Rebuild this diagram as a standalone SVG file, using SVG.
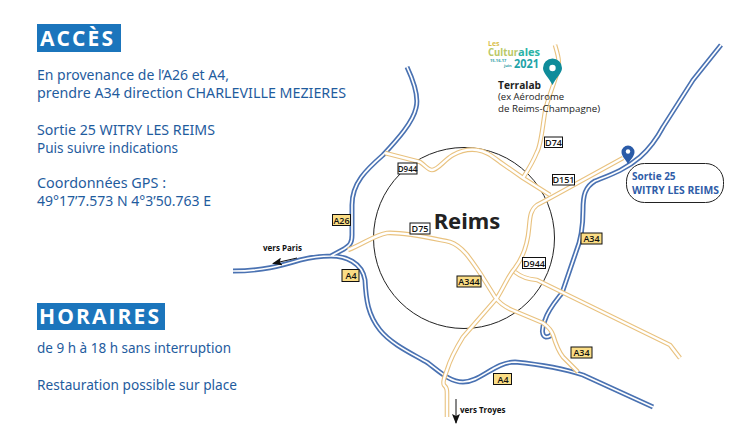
<svg xmlns="http://www.w3.org/2000/svg" width="753" height="445" viewBox="0 0 753 445">
<style>
text{font-family:"Open Sans","Noto Sans","Liberation Sans",sans-serif}
.body{font-size:13.6px;fill:#1f5c9e;font-family:"Noto Sans","Open Sans",sans-serif}
.head{font-size:21px;font-weight:700;fill:#fff;letter-spacing:2.1px}
.hbox{fill:#1b75bc}
.bc{fill:none;stroke:#4a72b2;stroke-width:5;stroke-linejoin:round}
.bi{fill:none;stroke:#fff;stroke-width:1.7;stroke-linejoin:round}
.yc{fill:none;stroke:#e9c27f;stroke-width:4.6;stroke-linejoin:round}
.yi{fill:none;stroke:#fff;stroke-width:2.4;stroke-linejoin:round}
.ybox{fill:#fbdd85;stroke:#111;stroke-width:1}
.wbox{fill:#fff;stroke:#111;stroke-width:1}
.lab{font-size:9px;font-weight:600;fill:#111;text-anchor:middle}
.dir{font-size:8px;font-weight:700;fill:#111}
.ar{stroke:#111;stroke-width:1;fill:none;marker-end:url(#ah)}
</style>
<defs>
<marker id="ah" viewBox="0 0 10 8" refX="9" refY="4" markerWidth="10" markerHeight="8" orient="auto" markerUnits="userSpaceOnUse"><path d="M0 0L10 4L0 8L2 4Z" fill="#111"/></marker>
<path id="blue" d="M407 67C414 82 419 97 416 108C413 122 398 139 383 155C366 170 352 183 352 205L352 235C352 243 350 245 344 249L331 256M233 271C262 271 280 266 300 260C312 257 322 256 331 256C345 256 362 262 365 280C366 300 368 315 380 330C392 345 415 355 428 363C440 372 450 382 463 382C480 382 495 362 515 362C535 364 565 369 583 375L653 407M721 45L693 80L663 127C655 142 648 150 640 157C625 170 610 175 595 181C585 187 583 195 583 210C583 225 581 240 576 252L562 293C555 302 548 310 545 320C541 330 542 336 546 337Q550 337 552 334"/>
<path id="yellow" d="M555 45C558 55 560 62 558 70C554 85 547 100 545 112C542 130 541 145 537 152C533 162 528 170 523 178M385 153L420 162C426 166 428 170 432 170C438 170 444 160 453 155C462 150 470 149 477 150C486 151 492 156 500 162L523 178L550 195M623 158L552 197L537 205C530 210 530 218 529 228C528 240 524 256 515 268C508 276 505 285 497 298L463 337C455 350 450 360 447 370C445 376 442 382 444 385C447 388 447 390 447 394L447 417M348 250C365 243 375 235 387 233C405 232 430 238 450 242C462 246 470 258 480 273L495 297C500 304 505 307 512 310L543 323C550 328 552 332 553 335C556 345 559 352 563 357L578 372M515 272C520 276 525 279 537 280L670 345L680 358"/>
</defs>

<g id="accesTitle"><rect class="hbox" x="37" y="24" width="84" height="28"/><text class="head" x="40" y="46">ACCÈS</text></g>
<g id="accesText">
<text class="body" x="37" y="80" textLength="192" lengthAdjust="spacingAndGlyphs">En provenance de l’A26 et A4,</text>
<text class="body" x="37" y="98" textLength="309" lengthAdjust="spacingAndGlyphs">prendre A34 direction CHARLEVILLE MEZIERES</text>
<text class="body" x="37" y="135" textLength="178" lengthAdjust="spacingAndGlyphs">Sortie 25 WITRY LES REIMS</text>
<text class="body" x="37" y="153" textLength="141" lengthAdjust="spacingAndGlyphs">Puis suivre indications</text>
<text class="body" x="37" y="188" textLength="129" lengthAdjust="spacingAndGlyphs">Coordonnées GPS :</text>
<text class="body" x="37" y="206" textLength="174" lengthAdjust="spacingAndGlyphs">49°17’7.573 N 4°3’50.763 E</text>
</g>
<g id="horairesTitle"><rect class="hbox" x="37" y="303" width="128" height="27"/><text class="head" x="39" y="324">HORAIRES</text></g>
<g id="horairesText">
<text class="body" x="37" y="353" textLength="194" lengthAdjust="spacingAndGlyphs">de 9 h à 18 h sans interruption</text>
<text class="body" x="37" y="390" textLength="200" lengthAdjust="spacingAndGlyphs">Restauration possible sur place</text>
</g>

<g id="ring"><circle cx="464" cy="238" r="90.5" fill="none" stroke="#222" stroke-width="1"/></g>
<g id="city"><text x="467" y="229" font-size="22" font-weight="700" fill="#222" text-anchor="middle" style="font-family:'Noto Sans','Open Sans',sans-serif">Reims</text></g>

<g id="connectors">
<use href="#blue" class="bc"/><use href="#blue" class="bi"/>
<use href="#yellow" class="yc"/><use href="#yellow" class="yi"/>
<path class="ar" d="M297 258L273 263.500"/>
<path class="ar" d="M456 399L456 423"/>
</g>

<g id="label-D944-n"><rect class="wbox" x="398" y="163" width="19" height="11"/><text class="lab" style="font-size:8px" x="407.500" y="171.500">D944</text></g>
<g id="label-D75"><rect class="wbox" x="410" y="223" width="20" height="11"/><text class="lab" x="420" y="232">D75</text></g>
<g id="label-A26"><rect class="ybox" x="332.500" y="214.500" width="18" height="11"/><text class="lab" x="341.500" y="223.500">A26</text></g>
<g id="label-A4-w"><rect class="ybox" x="342" y="269.500" width="17" height="12"/><text class="lab" x="351" y="279">A4</text></g>
<g id="label-A344"><rect class="ybox" x="457" y="276" width="24" height="11"/><text class="lab" x="469" y="285">A344</text></g>
<g id="label-D944-e"><rect class="wbox" x="522.500" y="257.500" width="23" height="11"/><text class="lab" x="534" y="266.500">D944</text></g>
<g id="label-A34-n"><rect class="ybox" x="581" y="233" width="21" height="11"/><text class="lab" x="591.500" y="242">A34</text></g>
<g id="label-A34-s"><rect class="ybox" x="571" y="347" width="21" height="11"/><text class="lab" x="581.500" y="356">A34</text></g>
<g id="label-A4-s"><rect class="ybox" x="493.500" y="373.500" width="18" height="11"/><text class="lab" x="503" y="382.500">A4</text></g>
<g id="label-D74"><rect class="wbox" x="544.500" y="137" width="18" height="10.500"/><text class="lab" x="553.500" y="145.500">D74</text></g>
<g id="label-D151"><rect class="wbox" x="552.500" y="174.500" width="22" height="10.500"/><text class="lab" x="563.500" y="183">D151</text></g>

<g id="vers-paris"><text class="dir" x="263" y="251">vers Paris</text></g>
<g id="vers-troyes"><text class="dir" x="460" y="413">vers Troyes</text></g>

<g id="sortie25">
<rect x="626.500" y="163.500" width="97" height="39" rx="18" fill="#fff" stroke="#222" stroke-width="1"/>
<text x="632" y="180" font-size="10" font-weight="700" fill="#2f5da8">Sortie 25</text>
<text x="632" y="194" font-size="10" font-weight="700" fill="#2f5da8" textLength="87" lengthAdjust="spacingAndGlyphs">WITRY LES REIMS</text>
</g>
<g id="pin-sortie">
<path d="M628 164C625 159 621.500 156 621.500 152A6.500 6.500 0 0 1 634.500 152C634.500 156 631 159 628 164Z" fill="#2a5ba8"/>
<circle cx="628" cy="151.500" r="2.200" fill="#fff"/>
</g>

<g id="terralab">
<text x="488" y="46" font-size="7" font-weight="700" fill="#d9c04e">Les</text>
<text x="488" y="56" font-size="10.500" font-weight="700" fill="#b9c866" textLength="30" lengthAdjust="spacingAndGlyphs">Cultur</text>
<text x="518" y="56" font-size="10.500" font-weight="700" fill="#2bb3a6" textLength="22" lengthAdjust="spacingAndGlyphs">ales</text>
<text x="490" y="62" font-size="4" font-weight="700" fill="#2f9ea6">15-16-17</text>
<text x="504" y="67" font-size="4" font-weight="700" fill="#2f9ea6">juin</text>
<text x="514" y="68" font-size="11.500" font-weight="700" fill="#1fa3a8" textLength="25" lengthAdjust="spacingAndGlyphs">2021</text>
<path d="M552.500 85C549 78 543 73 543 68A9.500 9.500 0 0 1 562 68C562 73 556 78 552.500 85Z" fill="#0f8c9a"/>
<circle cx="552.500" cy="68" r="3.200" fill="#fff"/>
<text x="498" y="88.500" font-size="10.500" font-weight="700" fill="#222" textLength="43" lengthAdjust="spacingAndGlyphs">Terralab</text>
<text x="498" y="100" font-size="9.500" fill="#222" textLength="66" lengthAdjust="spacingAndGlyphs">(ex Aérodrome</text>
<text x="498" y="112" font-size="9.500" fill="#222" textLength="102" lengthAdjust="spacingAndGlyphs">de Reims-Champagne)</text>
</g>
</svg>
